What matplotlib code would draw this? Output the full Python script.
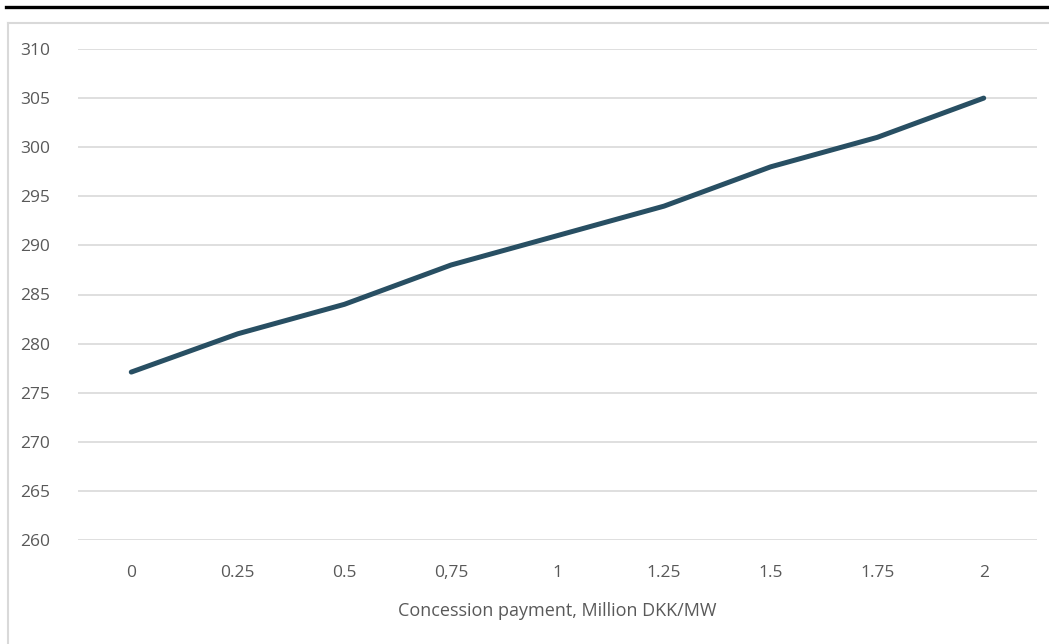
import matplotlib.pyplot as plt
from matplotlib.lines import Line2D

payments = ["0", "0.25", "0.5", "0,75", "1", "1.25", "1.5", "1.75", "2"]
values = [277.1, 281, 284, 288, 291, 294, 298, 301, 305]
yticks = [260, 265, 270, 275, 280, 285, 290, 295, 300, 305, 310]

W, H = 1049, 644
fig = plt.figure(figsize=(W / 100, H / 100), dpi=100)
plt.rcParams['font.family'] = ['Open Sans', 'DejaVu Sans']

# heavy rule across the top and the light frame around the chart
fig.add_artist(Line2D([6 / W, 1.0], [1 - 7 / H, 1 - 7 / H], color="black", lw=2.4))
frame_top = 1 - 23 / H
fig.add_artist(Line2D([7.5 / W, 1.0], [frame_top, frame_top], color="#d9d9d9", lw=1.5))
fig.add_artist(Line2D([7.5 / W, 7.5 / W], [0.0, frame_top], color="#d9d9d9", lw=1.5))

ax = fig.add_axes([78 / W, 1 - 540 / H, (1037 - 78) / W, 491 / H])
x = range(len(payments))
ax.plot(x, values, color="#284f63", lw=3.6, solid_capstyle="round", zorder=3)

ax.set_xlim(-0.5, len(payments) - 0.5)
ax.set_ylim(260, 310)
ax.set_yticks(yticks)
ax.set_xticks(list(x))
ax.set_xticklabels(payments)
ax.yaxis.grid(True, color="#d9d9d9", lw=1.2)
ax.set_axisbelow(True)
for s in ax.spines.values():
    s.set_visible(False)
ax.tick_params(length=0, labelsize=12.5, labelcolor="#595959")
ax.tick_params(axis="y", pad=20)
ax.tick_params(axis="x", pad=18)
ax.set_xlabel("Concession payment, Million DKK/MW", fontsize=13,
              color="#595959", labelpad=15)

fig.savefig("out.png", dpi=100)
